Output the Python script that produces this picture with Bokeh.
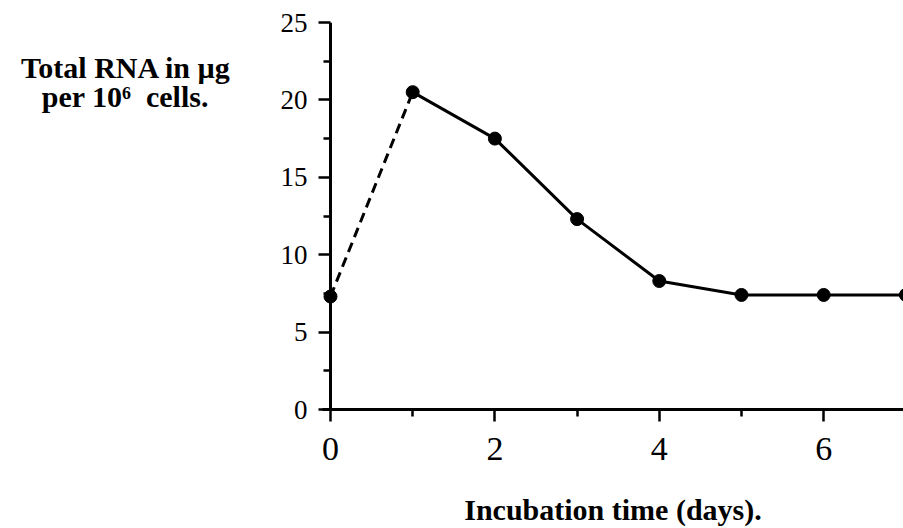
from bokeh.plotting import figure
from bokeh.models import FixedTicker, Range1d, Span
from bokeh.embed import file_html
from bokeh.resources import INLINE

# ---- data ----
days = [0, 1, 2, 3, 4, 5, 6, 7]
rna = [7.3, 20.5, 17.5, 12.3, 8.3, 7.4, 7.4, 7.4]
x_major = [0, 2, 4, 6]
x_minor = [1, 3, 5, 7]
y_major = [0, 5, 10, 15, 20, 25]
y_minor = [2.5, 7.5, 12.5, 17.5, 22.5]
x_title = "Incubation time (days)."
y_title_1 = "Total RNA in µg"
y_title_2 = "per 10\u2076\u00a0 cells."

SERIF = "Liberation Serif"

p = figure(width=903, height=528, output_backend="svg", toolbar_location=None,
           x_range=Range1d(-0.0973, 6.971), y_range=Range1d(0, 25),
           min_border_left=322, min_border_right=0, min_border_top=22,
           min_border_bottom=118)
p.outline_line_color = None
p.grid.visible = False
p.background_fill_color = "white"
p.border_fill_color = "white"

# y axis line drawn at x = 0
p.add_layout(Span(location=0, dimension="height", line_color="black", line_width=3))

# dashed first segment, solid rest
p.line(days[:2], rna[:2], line_width=3, line_color="black", line_dash="10 6")
p.line(days[1:], rna[1:], line_width=3, line_color="black")
p.scatter(days, rna, size=13, color="black")

p.xaxis.ticker = FixedTicker(ticks=x_major, minor_ticks=x_minor)
p.yaxis.ticker = FixedTicker(ticks=y_major, minor_ticks=y_minor)

for ax in (p.xaxis[0], p.yaxis[0]):
    ax.axis_line_width = 3
    ax.axis_line_color = "black"
    ax.major_tick_line_width = 2.5
    ax.minor_tick_line_width = 2.5
    ax.major_tick_line_color = "black"
    ax.minor_tick_line_color = "black"
    ax.major_label_text_font = SERIF
    ax.major_label_text_color = "black"
    ax.axis_label_text_font = SERIF
    ax.axis_label_text_font_style = "bold"
    ax.axis_label_text_color = "black"

p.xaxis.major_tick_out = 12
p.xaxis.major_tick_in = 0
p.xaxis.minor_tick_out = 7
p.xaxis.minor_tick_in = 0
p.xaxis.major_label_text_font_size = "34px"
p.xaxis.major_label_standoff = 16

p.yaxis.axis_line_color = None
p.yaxis.major_tick_out = 4
p.yaxis.major_tick_in = 8
p.yaxis.minor_tick_out = -1
p.yaxis.minor_tick_in = 8
p.yaxis.major_label_text_font_size = "27px"
p.yaxis.major_label_standoff = 11

p.xaxis.axis_label = x_title
p.xaxis.axis_label_text_font_size = "30px"
p.xaxis.axis_label_standoff = 30

p.yaxis.axis_label = "\n" * 4 + y_title_1 + "\n" + y_title_2 + "\u00a0" * 3
p.yaxis.axis_label_orientation = "horizontal"
p.yaxis.axis_label_align = "end"
p.yaxis.axis_label_text_align = "center"
p.yaxis.axis_label_text_font_size = "30px"
p.yaxis.axis_label_text_line_height = 0.9
p.yaxis.axis_label_standoff = 46

open("out.html", "w").write(file_html(p, INLINE))
